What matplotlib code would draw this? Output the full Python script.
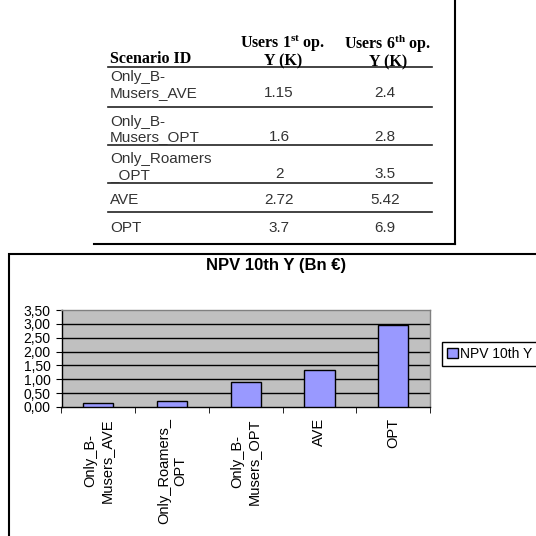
import numpy as np
import matplotlib
matplotlib.use("Agg")
import matplotlib.pyplot as plt
from matplotlib.lines import Line2D
from matplotlib.patches import Rectangle, Patch

plt.rcParams['font.family'] = ['Liberation Sans', 'DejaVu Sans']
plt.rcParams['mathtext.fontset'] = 'custom'
plt.rcParams['mathtext.rm'] = 'Liberation Serif'
plt.rcParams['mathtext.bf'] = 'Liberation Serif:bold'

# table data
table_header = ["Scenario ID", "Users 1$^{\\mathbf{st}}$ op.\nY (K)", "Users 6$^{\\mathbf{th}}$ op.\nY (K)"]
table_scenarios = ["Only_B-\nMusers_AVE", "Only_B-\nMusers_OPT", "Only_Roamers\n_OPT", "AVE", "OPT"]
users_1st = [1.15, 1.6, 2, 2.72, 3.7]
users_6th = [2.4, 2.8, 3.5, 5.42, 6.9]

# chart data
chart_categories = ["Only_B-\nMusers_AVE", "Only_Roamers_\nOPT", "Only_B-\nMusers_OPT", "AVE", "OPT"]
npv_10th = [0.16, 0.21, 0.92, 1.35, 2.97]
y_ticks = [0, 0.5, 1.0, 1.5, 2.0, 2.5, 3.0, 3.5]
y_ticklabels = ["0,00", "0,50", "1,00", "1,50", "2,00", "2,50", "3,00", "3,50"]

W, H = 536, 536
fig = plt.figure(figsize=(W / 100, H / 100), dpi=100)


def fx(x):
    return x / W


def fy(y):
    return 1 - y / H


def hline(x0, x1, y, lw=1.2, color='#222222'):
    fig.add_artist(Line2D([fx(x0), fx(x1)], [fy(y), fy(y)], transform=fig.transFigure, color=color, lw=lw))


# ---- table ----
serif = ['Liberation Serif', 'DejaVu Serif']
fig.text(fx(110), fy(59), table_header[0], family=serif, weight='bold', fontsize=11.5, va='center', ha='left')
fig.text(fx(283), fy(51), table_header[1], family=serif, weight='bold', fontsize=11.5, va='center', ha='center',
         multialignment='center', linespacing=0.95)
fig.text(fx(388), fy(51), table_header[2], family=serif, weight='bold', fontsize=11.5, va='center', ha='center',
         multialignment='center', linespacing=0.95)
hline(108, 432, 67)

name_y = [85, 129.5, 167, 200, 228]
value_y = [93, 137, 174, 200, 228]
rule_y = [107, 145, 183, 212]
for i in range(len(table_scenarios)):
    fig.text(fx(110), fy(name_y[i]), table_scenarios[i], fontsize=11, color='#333333', va='center', ha='left',
             linespacing=1.1)
    fig.text(fx(279), fy(value_y[i]), f"{users_1st[i]:g}", fontsize=11, color='#333333', va='center', ha='center')
    fig.text(fx(385), fy(value_y[i]), f"{users_6th[i]:g}", fontsize=11, color='#333333', va='center', ha='center')
for y in rule_y:
    hline(108, 432, y)

hline(94, 455, 244, lw=1.5, color='black')
fig.add_artist(Line2D([fx(455), fx(455)], [fy(0), fy(244)], transform=fig.transFigure, color='black', lw=1.5))

# ---- chart box ----
fig.add_artist(Rectangle((fx(8.5), fy(545)), fx(545), fy(254) - fy(545), transform=fig.transFigure,
                         facecolor='none', edgecolor='black', lw=1.5))
fig.text(fx(276.5), fy(266), "NPV 10th Y (Bn €)", weight='bold', fontsize=12, ha='center', va='center')

ax = fig.add_axes([fx(61.5), fy(407), fx(430) - fx(61.5), fy(310) - fy(407)])
ax.set_facecolor('#C0C0C0')
x = np.arange(len(chart_categories))
ax.bar(x, npv_10th, width=0.41, color='#9999FF', edgecolor='black', lw=1, zorder=3)
ax.set_xlim(-0.5, len(chart_categories) - 0.5)
ax.set_ylim(0, 3.5)
for t in y_ticks[1:-1]:
    ax.axhline(t, color='black', lw=1, zorder=1)
ax.set_yticks(y_ticks)
ax.set_yticklabels(y_ticklabels, fontsize=10)
ax.set_xticks(x)
ax.set_xticklabels(chart_categories, rotation=90, fontsize=10.5, va='top', ha='center', multialignment='center')
ax.tick_params(axis='x', length=0, pad=8)
ax.set_xticks(np.arange(len(chart_categories) + 1) - 0.5, minor=True)
ax.tick_params(axis='x', which='minor', length=4, direction='out', color='black')
ax.tick_params(axis='y', length=4, direction='out', pad=4)
ax.spines['top'].set_color('#808080')
ax.spines['right'].set_color('#808080')
ax.spines['left'].set_color('black')
ax.spines['bottom'].set_color('black')
for s in ax.spines.values():
    s.set_linewidth(1)

handle = Patch(facecolor='#9999FF', edgecolor='black', lw=1)
fig.legend([handle], ["NPV 10th Y"], loc='center left', bbox_to_anchor=(fx(442), fy(354)),
           fontsize=10, frameon=True, fancybox=False, edgecolor='black', framealpha=1,
           handlelength=0.8, handleheight=0.8, handletextpad=0.15, borderpad=0.35, borderaxespad=0)

fig.savefig("out.png", dpi=100)
